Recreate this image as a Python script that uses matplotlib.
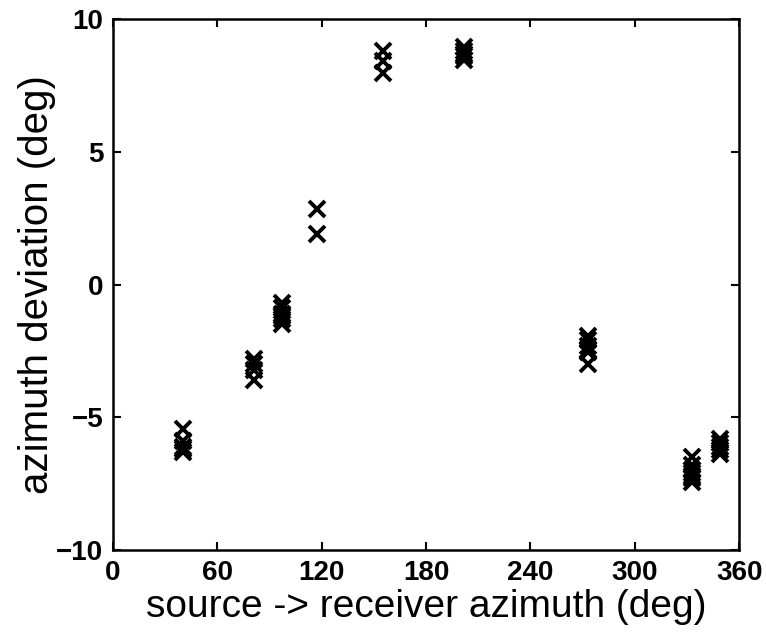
import matplotlib
matplotlib.use("Agg")
import matplotlib.pyplot as plt

# --- data: azimuth clusters (deg) and deviations (deg) ---
az_40 = [40] * 5
dev_40 = [-5.45, -5.9, -6.1, -6.2, -6.3]
az_81 = [81] * 4
dev_81 = [-2.8, -3.0, -3.2, -3.6]
az_97 = [97] * 6
dev_97 = [-0.7, -0.9, -1.1, -1.2, -1.3, -1.48]
az_117 = [117] * 2
dev_117 = [2.85, 1.9]
az_155 = [155] * 3
dev_155 = [8.8, 8.4, 7.98]
az_202 = [202] * 5
dev_202 = [8.95, 8.8, 8.7, 8.6, 8.45]
az_273 = [273] * 6
dev_273 = [-1.95, -2.1, -2.3, -2.45, -2.55, -3.0]
az_333 = [333] * 7
dev_333 = [-6.5, -6.8, -7.0, -7.1, -7.2, -7.3, -7.45]
az_349 = [349] * 5
dev_349 = [-5.8, -5.95, -6.1, -6.25, -6.4]

x_ticks = [0, 60, 120, 180, 240, 300, 360]
y_ticks = [-10, -5, 0, 5, 10]

azimuths = az_40 + az_81 + az_97 + az_117 + az_155 + az_202 + az_273 + az_333 + az_349
deviations = dev_40 + dev_81 + dev_97 + dev_117 + dev_155 + dev_202 + dev_273 + dev_333 + dev_349

plt.rcParams['font.family'] = ['Liberation Sans', 'DejaVu Sans']

fig = plt.figure(figsize=(7.66, 6.33), dpi=100)
ax = fig.add_axes([0.1475, 0.131, 0.8175, 0.839])

ax.plot(azimuths, deviations, linestyle="none", marker="x", color="black",
        markersize=11.5, markeredgewidth=2.8)

ax.set_xlim(0, 360)
ax.set_ylim(-10, 10)
ax.set_xticks(x_ticks)
ax.set_yticks(y_ticks)
ax.set_xticklabels([str(t) for t in x_ticks], fontsize=20, fontweight="bold")
ax.set_yticklabels([str(t).replace("-", "\u2212") for t in y_ticks], fontsize=20, fontweight="bold")
ax.tick_params(direction="in", length=6, width=1.5, top=True, right=True)
ax.tick_params(axis="x", pad=7)
ax.tick_params(axis="y", pad=7)
for s in ax.spines.values():
    s.set_linewidth(1.8)

ax.set_xlabel("source -> receiver azimuth (deg)", fontsize=28, labelpad=2)
ax.set_ylabel("azimuth deviation (deg)", fontsize=29, labelpad=0)

fig.savefig("out.png", dpi=100)
